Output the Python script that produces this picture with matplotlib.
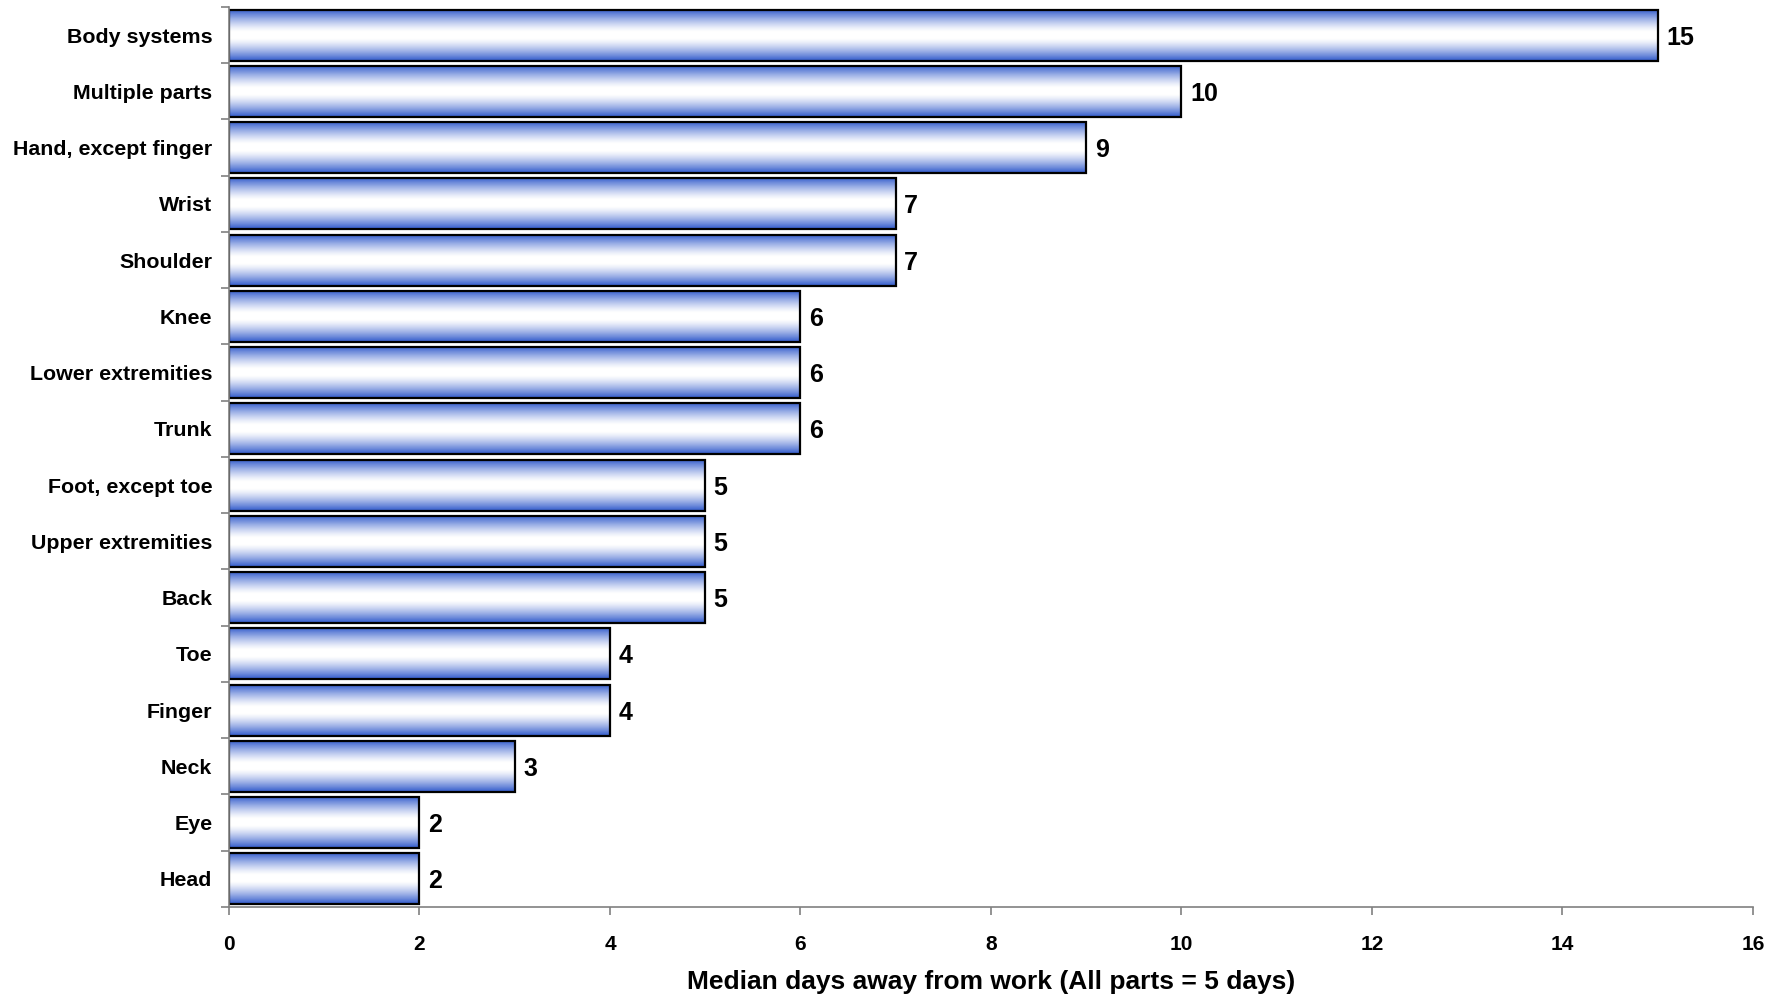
import numpy as np
import matplotlib.pyplot as plt
from matplotlib.ticker import FixedLocator

plt.rcParams['font.family'] = ['Liberation Sans', 'DejaVu Sans']
plt.rcParams['font.weight'] = 'bold'

# data, top to bottom as in the chart
parts = ['Body systems', 'Multiple parts', 'Hand, except finger', 'Wrist',
         'Shoulder', 'Knee', 'Lower extremities', 'Trunk', 'Foot, except toe',
         'Upper extremities', 'Back', 'Toe', 'Finger', 'Neck', 'Eye', 'Head']
days = [15, 10, 9, 7, 7, 6, 6, 6, 5, 5, 5, 4, 4, 3, 2, 2]
xticks = [0, 2, 4, 6, 8, 10, 12, 14, 16]

# vertical gradient: blue at the edges, white in the middle
blue = np.array([0.20, 0.36, 0.80])
white = np.array([1.0, 1.0, 1.0])
t = np.linspace(0, 1, 64)
d = np.clip(np.abs(2 * t - 1) * 1.15 - 0.15, 0, 1) ** 1.3
grad = white[None, :] + (blue - white)[None, :] * d[:, None]
grad = grad[:, None, :]

fig = plt.figure(figsize=(17.85, 9.98), dpi=100)
ax = fig.add_axes([0.1283, 0.0912, 0.982 - 0.1283, 0.993 - 0.0912])

n = len(parts)
ypos = np.arange(n)[::-1]
h = 0.91
for y, v in zip(ypos, days):
    ax.imshow(grad, extent=(0, v, y - h / 2, y + h / 2), aspect='auto',
              interpolation='bilinear', zorder=1)
bars = ax.barh(ypos, days, height=h, facecolor='none', edgecolor='black',
               linewidth=1.6, zorder=2)
for y, v in zip(ypos, days):
    ax.text(v + 0.09, y, str(v), va='center_baseline', ha='left', fontsize=18,
            fontweight='bold')

ax.set_xlim(0, 16)
ax.set_ylim(-0.5, n - 0.5)
ax.set_xticks(xticks)
ax.set_xticklabels([str(x) for x in xticks], fontsize=15, fontweight='bold')
ax.set_yticks(ypos)
ax.set_yticklabels(parts, fontsize=15.4, fontweight='bold')
ax.yaxis.set_minor_locator(FixedLocator(np.arange(n + 1) - 0.5))
ax.tick_params(axis='y', which='major', length=0, pad=12)
ax.tick_params(axis='y', which='minor', length=6, color='#808080', width=1.2)
ax.tick_params(axis='x', which='major', length=6, color='#808080', width=1.2,
               pad=14)

for s in ['top', 'right']:
    ax.spines[s].set_visible(False)
for s in ['left', 'bottom']:
    ax.spines[s].set_color('#808080')
    ax.spines[s].set_linewidth(1.2)

ax.set_xlabel('Median days away from work (All parts = 5 days)', fontsize=19,
              fontweight='bold', labelpad=12)

fig.savefig('out.png', dpi=100)
